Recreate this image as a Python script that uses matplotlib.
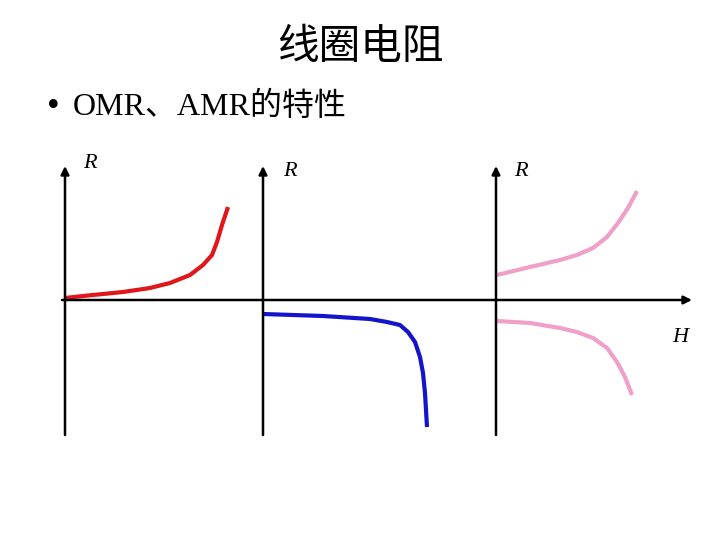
import matplotlib
matplotlib.use("Agg")
import matplotlib.pyplot as plt

# slide text
title = "线圈电阻"
bullet = "OMR、AMR的特性"

# curve points (pixel coords, y grows downward)
omr_x = [65, 83, 123, 150, 170, 190, 203, 212, 217, 222, 228]
omr_y = [298, 296, 292, 288, 283, 275, 265, 255, 242, 225, 207]

blue_x = [263, 323, 370, 387, 400, 408, 415, 420, 423, 425, 427]
blue_y = [314, 316, 319, 322, 325, 332, 342, 357, 373, 393, 427]

amr_up_x = [497, 530, 560, 577, 593, 607, 618, 628, 637]
amr_up_y = [275, 267, 260, 255, 248, 237, 223, 208, 191]

amr_dn_x = [497, 530, 560, 577, 593, 607, 617, 625, 632]
amr_dn_y = [321, 323, 328, 332, 338, 348, 362, 377, 395]

# vertical axes: x position, label position
axis_x = [65, 263, 496]
label_xy = [(90, 163), (290, 171), (521, 172)]

fig = plt.figure(figsize=(7.2, 5.4), dpi=100)
ax = fig.add_axes([0, 0, 1, 1])
ax.set_xlim(0, 720)
ax.set_ylim(540, 0)
ax.axis("off")

serif_cjk = ["Liberation Serif", "Noto Sans CJK SC"]

ax.text(360, 48, title, ha="center", va="center", fontsize=30,
        family=["Noto Sans CJK SC"])
ax.text(53, 107, "•", ha="center", va="center", fontsize=26, family="Liberation Serif")
ax.text(73, 107, bullet, ha="left", va="center", fontsize=23, family=serif_cjk)

arrow = dict(arrowstyle="-|>", lw=1.8, color="black", mutation_scale=12,
             shrinkA=0, shrinkB=0)

# horizontal H axis
ax.annotate("", xy=(692, 300), xytext=(62, 300), arrowprops=arrow)
ax.text(680, 337, "H", ha="center", va="center", fontsize=16,
        style="italic", family="Liberation Serif")

# vertical R axes
for x, (lx, ly) in zip(axis_x, label_xy):
    ax.annotate("", xy=(x, 166), xytext=(x, 435), arrowprops=arrow)
    ax.text(lx, ly, "R", ha="center", va="center", fontsize=16,
            style="italic", family="Liberation Serif")

style = dict(lw=3, solid_capstyle="butt", solid_joinstyle="round")
ax.plot(omr_x, omr_y, color="#e0161b", **style)
ax.plot(blue_x, blue_y, color="#1414cc", **style)
ax.plot(amr_up_x, amr_up_y, color="#f0a0c8", **style)
ax.plot(amr_dn_x, amr_dn_y, color="#f0a0c8", **style)

fig.savefig("out.png", dpi=100)
